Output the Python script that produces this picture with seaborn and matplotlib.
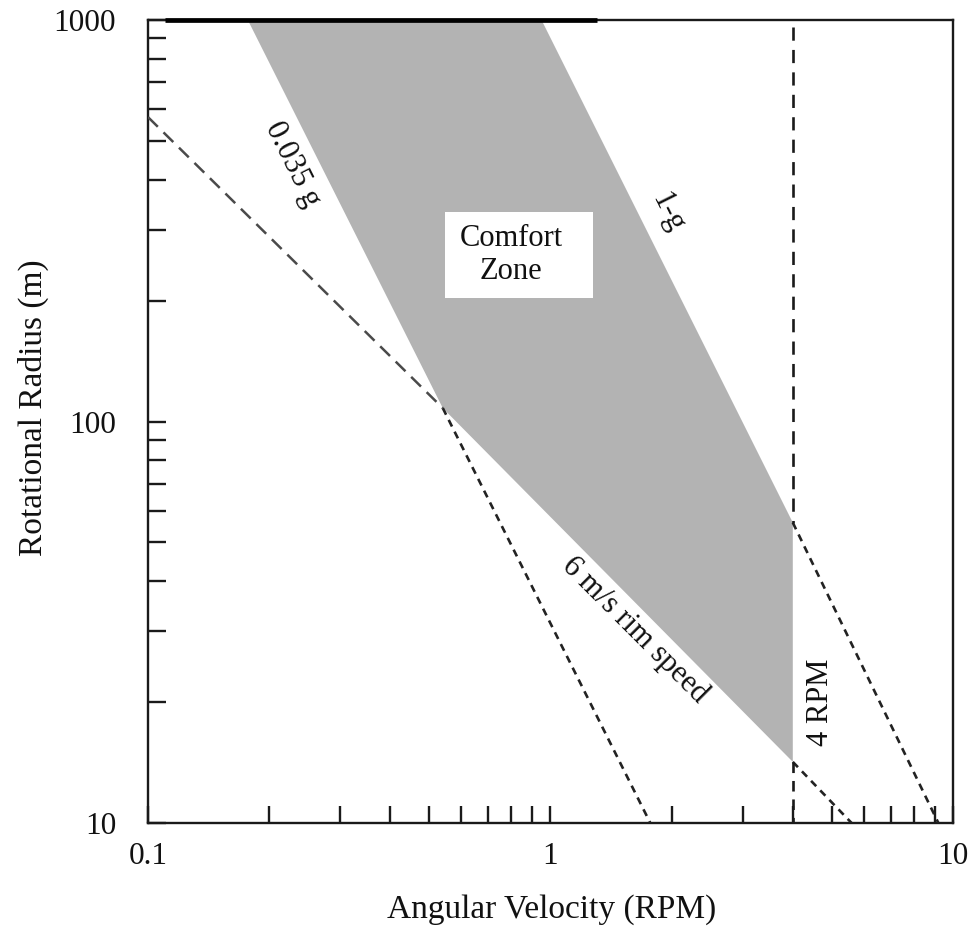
import matplotlib
matplotlib.use("Agg")
import matplotlib.pyplot as plt
from matplotlib.patches import Rectangle
from matplotlib.ticker import FixedLocator, LogLocator, NullFormatter
import pandas as pd
import seaborn as sns

# Comfort zone boundary (RPM, radius in m)
zone_rpm = [0.177, 0.95, 4.0, 4.0, 0.54]
zone_radius = [1000, 1000, 56, 14.2, 108]

# Constraint lines outside the comfort zone
rim_upper_rpm = [0.1, 0.54]
rim_upper_radius = [573, 108]
low_g_tail_rpm = [0.54, 1.77]
low_g_tail_radius = [108, 10]
rim_tail_rpm = [4.0, 5.6]
rim_tail_radius = [14.2, 10]
one_g_tail_rpm = [4.0, 9.2]
one_g_tail_radius = [56, 10]
rpm_limit_top_rpm = [4.0, 4.0]
rpm_limit_top_radius = [960, 56]
rpm_limit_bottom_rpm = [4.0, 4.0]
rpm_limit_bottom_radius = [14.2, 10]

x_ticks = [0.1, 1, 10]
x_tick_labels = ["0.1", "1", "10"]
y_ticks = [10, 100, 1000]
y_tick_labels = ["10", "100", "1000"]

sns.set_theme(style="ticks")
plt.rcParams["font.family"] = ["Liberation Serif", "DejaVu Serif"]

fig = plt.figure(figsize=(9.79, 9.31), dpi=100)
ax = fig.add_axes([0.1512, 0.1160, 0.8222, 0.8625])
ax.set_xscale("log")
ax.set_yscale("log")

zone = pd.DataFrame({"rpm": zone_rpm, "radius": zone_radius})
ax.fill(zone["rpm"], zone["radius"], color="#b3b3b3", linewidth=0, zorder=1)


def dashed(xs, ys, color, lw, pattern):
    df = pd.DataFrame({"rpm": xs, "radius": ys})
    sns.lineplot(data=df, x="rpm", y="radius", sort=False, estimator=None,
                 ax=ax, color=color, linewidth=lw,
                 linestyle=(0, pattern), zorder=3)


dashed(rim_upper_rpm, rim_upper_radius, "#4a4a4a", 1.8, (5.5, 3.2))
dashed(low_g_tail_rpm, low_g_tail_radius, "#222222", 1.9, (2.8, 2.2))
dashed(rim_tail_rpm, rim_tail_radius, "#222222", 1.9, (2.8, 2.2))
dashed(one_g_tail_rpm, one_g_tail_radius, "#222222", 1.9, (2.8, 2.2))
dashed(rpm_limit_top_rpm, rpm_limit_top_radius, "#1a1a1a", 1.9, (5.0, 3.5))
dashed(rpm_limit_bottom_rpm, rpm_limit_bottom_radius, "#1a1a1a", 1.9, (4.0, 3.0))

ax.set_xlim(0.1, 10)
ax.set_ylim(10, 1000)
ax.set_xlabel("")
ax.set_ylabel("")

ax.xaxis.set_major_locator(FixedLocator(x_ticks))
ax.set_xticklabels(x_tick_labels)
ax.yaxis.set_major_locator(FixedLocator(y_ticks))
ax.set_yticklabels(y_tick_labels)
for axis in (ax.xaxis, ax.yaxis):
    axis.set_minor_locator(LogLocator(base=10, subs=range(2, 10)))
    axis.set_minor_formatter(NullFormatter())

ax.tick_params(which="both", direction="in", width=1.7,
               color="#1a1a1a", top=False, right=False, labelsize=22.5,
               labelcolor="#111111")
ax.tick_params(axis="x", which="both", pad=14, length=12)
ax.tick_params(axis="y", which="both", pad=23, length=13)

for side in ["left", "right", "top", "bottom"]:
    ax.spines[side].set_visible(True)
    ax.spines[side].set_linewidth(1.7)
    ax.spines[side].set_color("#1a1a1a")

# heavier stroke along part of the top border
ax.plot([0.021, 0.558], [1, 1], transform=ax.transAxes, color="black",
        linewidth=3.4, solid_capstyle="butt", clip_on=False, zorder=5)

# Comfort zone label on a white card
ax.add_patch(Rectangle((0.369, 0.654), 0.184, 0.107, transform=ax.transAxes,
                       facecolor="white", edgecolor="none", zorder=2))
ax.text(0.798, 260, "Comfort\nZone", fontsize=22, ha="center", va="center",
        multialignment="center", color="#111111", zorder=4)

label_kw = dict(fontsize=22, ha="center", va="center",
                rotation_mode="anchor", color="#111111", zorder=4)
ax.text(0.228, 436, "0.035 g", rotation=-63.4, **label_kw)
ax.text(1.95, 332, "1-g", rotation=-63.4, **label_kw)
ax.text(1.62, 30.3, "6 m/s rim speed", rotation=-45, **label_kw)
ax.text(4.70, 20.0, "4 RPM", rotation=90, **label_kw)

fig.text(552 / 979, 1 - 910 / 931, "Angular Velocity (RPM)", fontsize=24,
         ha="center", va="center", color="#111111")
fig.text(33 / 979, 1 - 408 / 931, "Rotational Radius (m)", fontsize=24,
         rotation=90, ha="center", va="center", color="#111111")

fig.savefig("out.png", dpi=100, facecolor="white")
